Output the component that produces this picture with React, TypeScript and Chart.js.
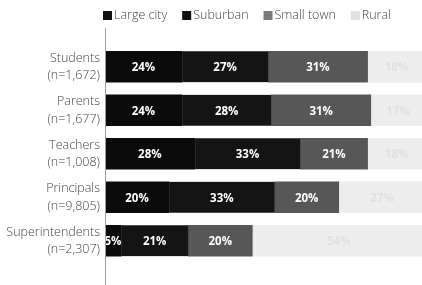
import React, { useEffect, useRef } from "react";
import { Chart, registerables } from "chart.js";

Chart.register(...registerables);

const categories: string[][] = [
  ["Students", "(n=1,672)"],
  ["Parents", "(n=1,677)"],
  ["Teachers", "(n=1,008)"],
  ["Principals", "(n=9,805)"],
  ["Superintendents", "(n=2,307)"],
];
const seriesNames = ["Large city", "Suburban", "Small town", "Rural"];
const largeCity = [24, 24, 28, 20, 5];
const suburban = [27, 28, 33, 33, 21];
const smallTown = [31, 31, 21, 20, 20];
const rural = [18, 17, 18, 27, 54];

const barColors = ["#0b0b0b", "#141414", "#575757", "#ededed"];
const legendColors = ["#111111", "#111111", "#7a7a7a", "#e0e0e0"];
const labelColors = ["#ffffff", "#ffffff", "#ffffff", "#e0e0e0"];
const FONT = "'Open Sans', 'DejaVu Sans', sans-serif";

const decorPlugin = {
  id: "decor",
  afterDatasetsDraw(chart: any) {
    const ctx = chart.ctx;
    ctx.save();
    // value labels
    chart.data.datasets.forEach((ds: any, di: number) => {
      const meta = chart.getDatasetMeta(di);
      meta.data.forEach((bar: any, i: number) => {
        const v = ds.data[i];
        const cx = (bar.base + bar.x) / 2;
        ctx.font = `bold 11.5px ${FONT}`;
        ctx.fillStyle = labelColors[di];
        ctx.textAlign = "center";
        ctx.textBaseline = "middle";
        ctx.fillText(`${v}%`, cx, bar.y + 1);
      });
    });
    // axis line
    const x0 = chart.chartArea.left;
    ctx.strokeStyle = "#a0a0a0";
    ctx.lineWidth = 1;
    ctx.beginPath();
    ctx.moveTo(x0 + 0.5, 28);
    ctx.lineTo(x0 + 0.5, chart.height);
    ctx.stroke();
    // legend
    ctx.font = `300 12.5px ${FONT}`;
    ctx.textAlign = "left";
    ctx.textBaseline = "middle";
    let x = 103;
    const y = 15;
    seriesNames.forEach((name, i) => {
      ctx.fillStyle = legendColors[i];
      ctx.fillRect(x, y - 4, 9, 9);
      x += 11;
      ctx.fillStyle = "#444444";
      ctx.fillText(name, x, y);
      x += ctx.measureText(name).width + 15;
    });
    ctx.restore();
  },
};

export default function App() {
  const ref = useRef<HTMLCanvasElement>(null);
  useEffect(() => {
    document.body.style.margin = "0";
    const data = [largeCity, suburban, smallTown, rural];
    const chart = new Chart(ref.current!, {
      type: "bar",
      data: {
        labels: categories,
        datasets: seriesNames.map((name, i) => ({
          label: name,
          data: data[i],
          backgroundColor: barColors[i],
          borderColor: "#4a4a4a",
          borderWidth: i === 1 ? { left: 1, right: 0, top: 0, bottom: 0 } : 0,
          borderSkipped: false,
          barThickness: 31,
        })),
      },
      options: {
        indexAxis: "y",
        animation: false,
        responsive: false,
        maintainAspectRatio: false,
        layout: { padding: { top: 45, bottom: 15, left: 0, right: 0 } },
        plugins: { legend: { display: false }, tooltip: { enabled: false } },
        scales: {
          x: { stacked: true, min: 0, max: 99, display: false },
          y: {
            stacked: true,
            grid: { display: false, drawTicks: false },
            border: { display: false },
            ticks: {
              color: "#444444",
              padding: 5,
              font: { family: FONT, size: 12.5, weight: "300", lineHeight: 1.4 },
            },
            afterFit: (s: any) => {
              s.width = 105;
            },
          },
        },
      } as any,
      plugins: [decorPlugin],
    });
    return () => chart.destroy();
  }, []);
  return (
    <div style={{ position: "absolute", left: 0, top: 0, width: 422, height: 285 }}>
      <canvas ref={ref} width={422} height={285} style={{ display: "block" }} />
    </div>
  );
}
